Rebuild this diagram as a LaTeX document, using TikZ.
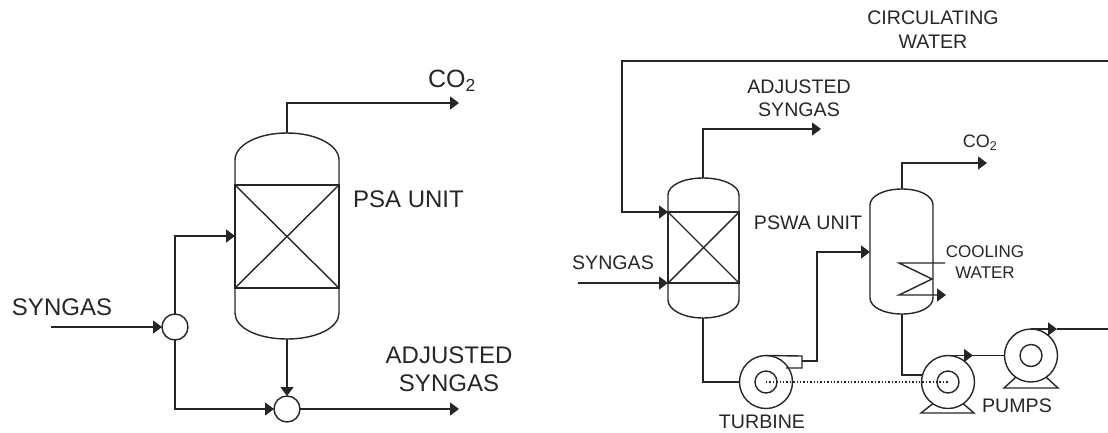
\documentclass[tikz,border=0pt]{standalone}
\usepackage{fontspec}
\setmainfont{Liberation Sans}
\usepackage{tikz}
\usetikzlibrary{arrows.meta}

\tikzset{
  line/.style={line width=1.4pt, color=black!85},
  flow/.style={line, -{Triangle[length=9pt,width=13pt]}},
  mixer/.style={circle, draw, line width=1.4pt, color=black!85, minimum size=26pt, inner sep=0pt, outer sep=0pt},
  wheel/.style={circle, draw, line width=1.4pt, color=black!85, minimum size=53pt, inner sep=0pt, outer sep=0pt},
  hub/.style={circle, draw, line width=1.4pt, color=black!85, minimum size=22pt, inner sep=0pt, outer sep=0pt},
  biglabel/.style={text=black!85, font=\fontsize{24}{29}\selectfont, inner sep=0pt, align=center},
  midlabel/.style={text=black!85, font=\fontsize{19.6}{24}\selectfont, inner sep=0pt, align=center},
  smalllabel/.style={text=black!85, font=\fontsize{17}{21}\selectfont, inner sep=0pt, align=center}
}

\begin{document}
\begin{tikzpicture}[x=1pt, y=-1pt]
  \useasboundingbox (0,0) rectangle (1108,432);

  % PSA unit, left
  \draw[line] (235,160) -- (235,313) .. controls (235,328) and (258,339) .. (287,339) .. controls (316,339) and (339,328) .. (339,313) -- (339,160) .. controls (339,145) and (316,133) .. (287,133) .. controls (258,133) and (235,145) .. (235,160) -- cycle;
  \draw[line] (235,185) rectangle (339,288);
  \draw[line] (235,185) -- (339,288);
  \draw[line] (339,185) -- (235,288);
  \coordinate (psatop) at (287,133);
  \coordinate (psabot) at (287,339);
  \coordinate (psafeed) at (235,236);
  \node[mixer] (split) at (175,327) {};
  \node[mixer] (merge) at (287,409) {};
  \coordinate (syngasin) at (51,327);
  \coordinate (co2out) at (459,103);
  \coordinate (adjout) at (459,409);

  \draw[flow] (syngasin) -- (split.west); % feed
  \draw[flow] (split.north) |- (psafeed);
  \draw[flow] (split.south) |- (merge.west);
  \draw[flow] (psabot) -- (merge.north);
  \draw[flow] (merge.east) -- (adjout);
  \draw[flow] (psatop) |- (co2out);

  \node[biglabel] (co2a) at (452,81) {\fontsize{25}{30}\selectfont CO\textsubscript{2}};
  \node[biglabel] (psalabel) at (408.5,199) {PSA UNIT};
  \node[biglabel] (syngasa) at (62,307) {SYNGAS};
  \node[biglabel] (adja) at (449,355) {ADJUSTED};
  \node[biglabel] (adjb) at (449,383) {SYNGAS};

  % PSWA unit, first vessel
  \draw[line] (668,195) -- (668,300) .. controls (668,310) and (684,318) .. (703,318) .. controls (722,318) and (739,310) .. (739,300) -- (739,195) .. controls (739,185) and (722,178) .. (703,178) .. controls (684,178) and (668,185) .. (668,195) -- cycle;
  \draw[line] (668,212) rectangle (739,283);
  \draw[line] (668,212) -- (739,283);
  \draw[line] (739,212) -- (668,283);
  \coordinate (bedtop) at (703,178);
  \coordinate (bedbot) at (703,318);
  \coordinate (bedwater) at (668,212);
  \coordinate (bedfeed) at (668,283);
  \coordinate (waterin) at (1108,61);
  \coordinate (watercorner) at (622,61);
  \coordinate (syngasright) at (578,283);
  \coordinate (adjright) at (821,129);

  \draw[flow] (waterin) -- (watercorner) |- (bedwater); % circulating water
  \draw[flow] (syngasright) -- (bedfeed);
  \draw[flow] (bedtop) |- (adjright);

  % turbine
  \node[wheel] (turbine) at (766,382) {};
  \node[hub] (turbinehub) at (766,382) {};
  \draw[line] (turbine.north) -- (802,356) -- (802,368) -- (787,368) -- (turbine.35);
  \coordinate (turbineout) at (802,361);
  \draw[line] (bedbot) |- (turbine.west);

  % second vessel
  \draw[line] (870,205) -- (870,298) .. controls (870,307) and (884,314) .. (902,314) .. controls (920,314) and (933,307) .. (933,298) -- (933,205) .. controls (933,196) and (920,189) .. (902,189) .. controls (884,189) and (870,196) .. (870,205) -- cycle;
  \coordinate (sweettop) at (902,189);
  \coordinate (sweetbot) at (902,314);
  \coordinate (sweetfeed) at (870,252);
  \coordinate (co2right) at (987,163);
  \coordinate (risecorner) at (817,252);

  \draw[flow] (turbineout) -| (risecorner) -- (sweetfeed);
  \draw[flow] (sweettop) |- (co2right);
  \draw[flow] (945,263) -- (899,263) -- (932,279) -- (899,295) -- (946,295); % coil

  % pumps
  \node[wheel] (pumpa) at (948,382) {};
  \node[hub] (pumpahub) at (948,382) {};
  \node[wheel] (pumpb) at (1031,355.5) {};
  \node[hub] (pumpbhub) at (1031,355.5) {};
  \draw[line] (pumpa.235) -- (921,413) -- (974,413) -- (pumpa.305);
  \draw[line] (pumpb.235) -- (1004,388) -- (1058,388) -- (pumpb.305);
  \coordinate (pumpatip) at (973,355.5);
  \coordinate (pumpbtip) at (1057,329);
  \coordinate (waterout) at (1108,329);
  \draw[line] (sweetbot) |- (pumpa.165);
  \draw[flow] (pumpa.north) -- (pumpatip);
  \draw[line] (pumpatip) -- (pumpb.west);
  \draw[flow] (pumpb.north) -- (pumpbtip);
  \draw[line] (pumpbtip) -- (waterout);
  \draw[line, dotted] (turbinehub.center) -- (pumpahub.center); % shaft

  \node[midlabel] (circa) at (933,18) {CIRCULATING};
  \node[midlabel] (circb) at (933,42) {WATER};
  \node[midlabel] (adjc) at (799,87) {ADJUSTED};
  \node[midlabel] (adjd) at (799,110) {SYNGAS};
  \node[midlabel] (syngasb) at (613,263) {SYNGAS};
  \node[midlabel] (pswalabel) at (808,223) {PSWA UNIT};
  \node[midlabel] (co2b) at (980,143) {\fontsize{18}{22}\selectfont CO\textsubscript{2}};
  \node[smalllabel] (coola) at (985,252) {COOLING};
  \node[smalllabel] (coolb) at (985,273) {WATER};
  \node[midlabel] (pumpslabel) at (1017,406) {PUMPS};
  \node[midlabel] (turbinelabel) at (762,422) {TURBINE};
\end{tikzpicture}
\end{document}
